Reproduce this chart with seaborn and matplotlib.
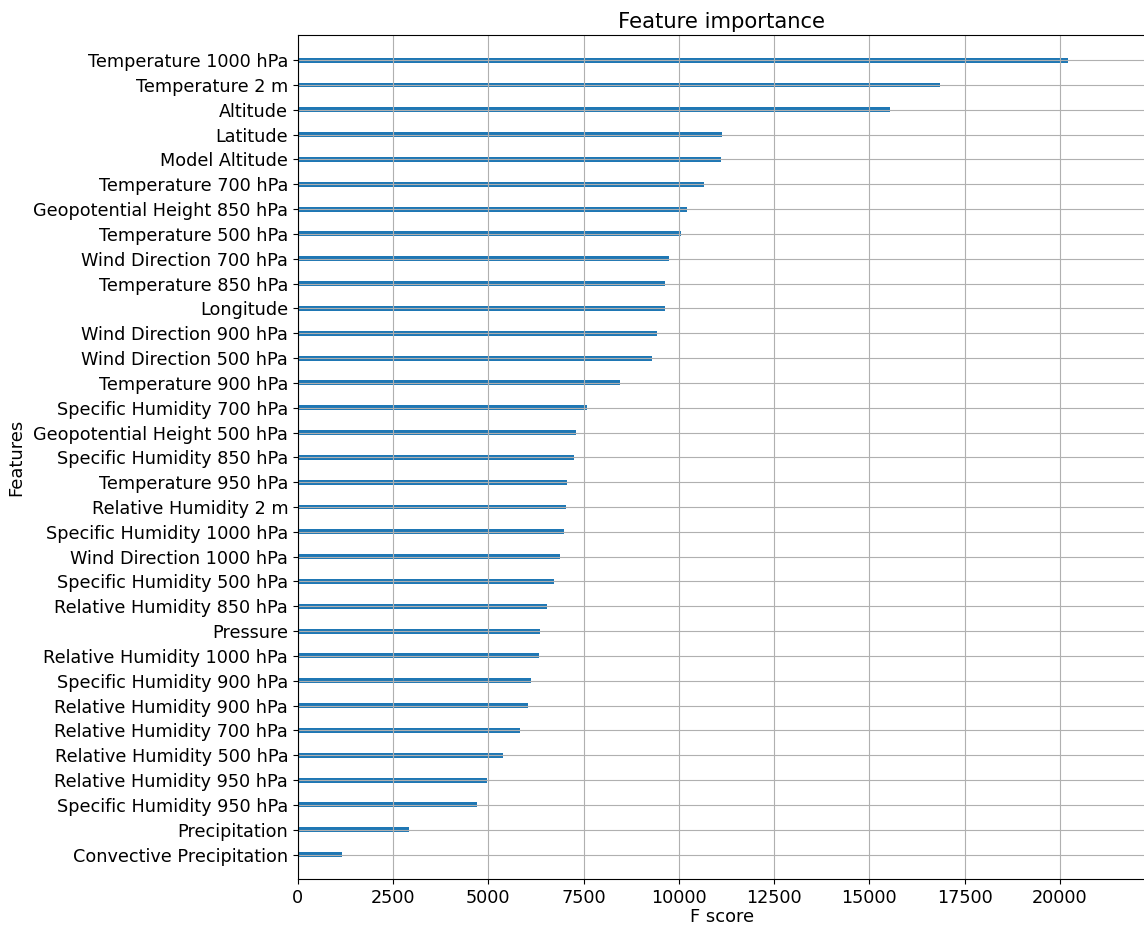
import matplotlib
matplotlib.use("Agg")
import matplotlib.pyplot as plt
import seaborn as sns

features = [
    "Temperature 1000 hPa", "Temperature 2 m", "Altitude", "Latitude",
    "Model Altitude", "Temperature 700 hPa", "Geopotential Height 850 hPa",
    "Temperature 500 hPa", "Wind Direction 700 hPa", "Temperature 850 hPa",
    "Longitude", "Wind Direction 900 hPa", "Wind Direction 500 hPa",
    "Temperature 900 hPa", "Specific Humidity 700 hPa",
    "Geopotential Height 500 hPa", "Specific Humidity 850 hPa",
    "Temperature 950 hPa", "Relative Humidity 2 m",
    "Specific Humidity 1000 hPa", "Wind Direction 1000 hPa",
    "Specific Humidity 500 hPa", "Relative Humidity 850 hPa", "Pressure",
    "Relative Humidity 1000 hPa", "Specific Humidity 900 hPa",
    "Relative Humidity 900 hPa", "Relative Humidity 700 hPa",
    "Relative Humidity 500 hPa", "Relative Humidity 950 hPa",
    "Specific Humidity 950 hPa", "Precipitation", "Convective Precipitation",
]
f_scores = [
    20220, 16853, 15541, 11131, 11113, 10659, 10203, 10055, 9748, 9627,
    9627, 9417, 9294, 8454, 7588, 7299, 7239, 7063, 7037, 6976, 6879,
    6714, 6538, 6354, 6320, 6110, 6031, 5821, 5391, 4955, 4693, 2916, 1165,
]
x_ticks = [0, 2500, 5000, 7500, 10000, 12500, 15000, 17500, 20000]

fig = plt.figure(figsize=(11.44, 9.26), dpi=100)
ax = fig.add_axes([0.2604, 0.0504, 0.7407, 0.9114])

sns.barplot(x=f_scores, y=features, orient="h", width=0.2,
            color="#1f77b4", saturation=1, linewidth=0, ax=ax)

ax.set_xlim(0, max(f_scores) * 1.1)
ax.set_ylim(len(features), -1)
ax.set_xticks(x_ticks)
ax.set_axisbelow("line")
ax.grid(True, color="#b0b0b0", linewidth=0.8)
ax.tick_params(axis="both", labelsize=12.7)

ax.set_title("Feature importance", fontsize=15.2, pad=5)
ax.set_xlabel("F score", fontsize=12.9, labelpad=0.5)
ax.set_ylabel("Features", fontsize=12.9, labelpad=5.5)

fig.savefig("out.png", dpi=100)
